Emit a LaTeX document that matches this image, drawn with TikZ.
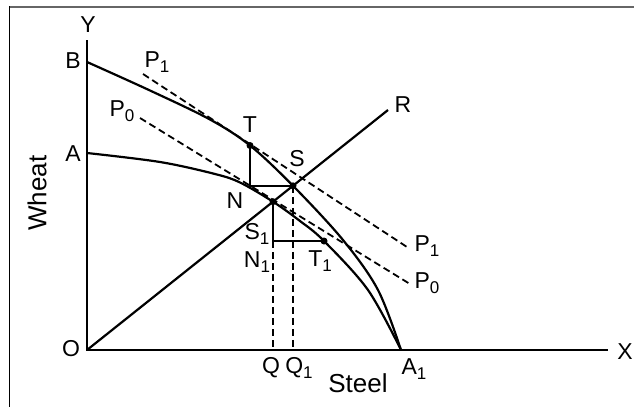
\documentclass[tikz,border=0pt]{standalone}
\usepackage{fontspec}
\setmainfont{Liberation Sans}
\newcommand{\lsub}[1]{\raisebox{-0.45ex}{\fontsize{17}{17}\selectfont #1}}
\begin{document}
\begin{tikzpicture}[x=1pt,y=-1pt,
  lbl/.style={font=\fontsize{23}{25}\selectfont, inner sep=0pt},
  ttl/.style={font=\fontsize{26}{28}\selectfont, inner sep=0pt},
  solidln/.style={line width=2.2pt},
  dashln/.style={line width=1.8pt, dash pattern=on 7pt off 4pt},
  ptdot/.style={circle, fill, inner sep=0pt, minimum size=7pt}]
\useasboundingbox (0,0) rectangle (634,407);
% frame
\draw[black!60, line width=2pt] (9,6.5) -- (634,6.5);
\draw[line width=1.2pt] (9.5,6) -- (9.5,407);
% coordinates
\coordinate (O) at (87,350);
\coordinate (Ytop) at (87,40);
\coordinate (Xend) at (608,350);
\coordinate (B) at (87,62);
\coordinate (A) at (87,153);
\coordinate (A1) at (401,350);
\coordinate (R) at (388,110);
\coordinate (T) at (250,145.5);
\coordinate (S) at (293,185.8);
\coordinate (N) at (273,201.7);
\coordinate (T1) at (324,241);
\coordinate (Nc) at (T |- S);
\coordinate (N1) at (N |- T1);
\coordinate (Q) at (N |- O);
\coordinate (Q1) at (S |- O);
\coordinate (P1a) at (143,74);
\coordinate (P1b) at (407,247);
\coordinate (P0a) at (140,118);
\coordinate (P0b) at (410,284);
% axes
\draw[solidln] (Ytop) -- (O) -- (Xend);
% ray
\draw[solidln] (O) -- (R);
% curves
\draw[solidln] plot[smooth, tension=0.55] coordinates {(B) (150,90.5) (210,119.5) (T) (S) (343,240) (378,290) (A1)};
\draw[solidln] plot[smooth, tension=0.55] coordinates {(A) (160,162) (215,174) (240,182.5) (N) (300,221) (T1) (368,290) (A1)};
% price lines
\draw[dashln] (P1a) -- (P1b);
\draw[dashln] (P0a) -- (P0b);
% construction lines
\draw[solidln] (T) -- (Nc) -- (S);
\draw[solidln] (N) -- (N1) -- (T1);
\draw[dashln] (N1) -- (Q);
\draw[dashln] (S) -- (Q1);
% dots
\node[ptdot] (dT) at (T) {};
\node[ptdot] (dS) at (S) {};
\node[ptdot] (dN) at (N) {};
\node[ptdot] (dT1) at (T1) {};
% labels
\node[lbl] (lY) at (88,25) {Y};
\node[lbl] (lB) at (73,61) {B};
\node[lbl] (lA) at (73,154) {A};
\node[lbl] (lO) at (71,349) {O};
\node[lbl] (lX) at (625,352) {X};
\node[lbl] (lP1t) at (157,62) {P\lsub{1}};
\node[lbl] (lP0t) at (122,111) {P\lsub{0}};
\node[lbl] (lT) at (250,125) {T};
\node[lbl] (lS) at (297,159) {S};
\node[lbl] (lR) at (403,105) {R};
\node[lbl] (lN) at (235,201) {N};
\node[lbl] (lS1) at (257,234) {S\lsub{1}};
\node[lbl] (lN1) at (257,262) {N\lsub{1}};
\node[lbl] (lT1) at (320,261) {T\lsub{1}};
\node[lbl] (lP1r) at (427,246) {P\lsub{1}};
\node[lbl] (lP0r) at (427,283) {P\lsub{0}};
\node[lbl] (lQ) at (271,368) {Q};
\node[lbl] (lQ1) at (299,368) {Q\lsub{1}};
\node[lbl] (lA1) at (414,369) {A\lsub{1}};
\node[ttl] (lSteel) at (358,383) {Steel};
\node[ttl, rotate=90] (lWheat) at (37,193) {Wheat};
\end{tikzpicture}
\end{document}
